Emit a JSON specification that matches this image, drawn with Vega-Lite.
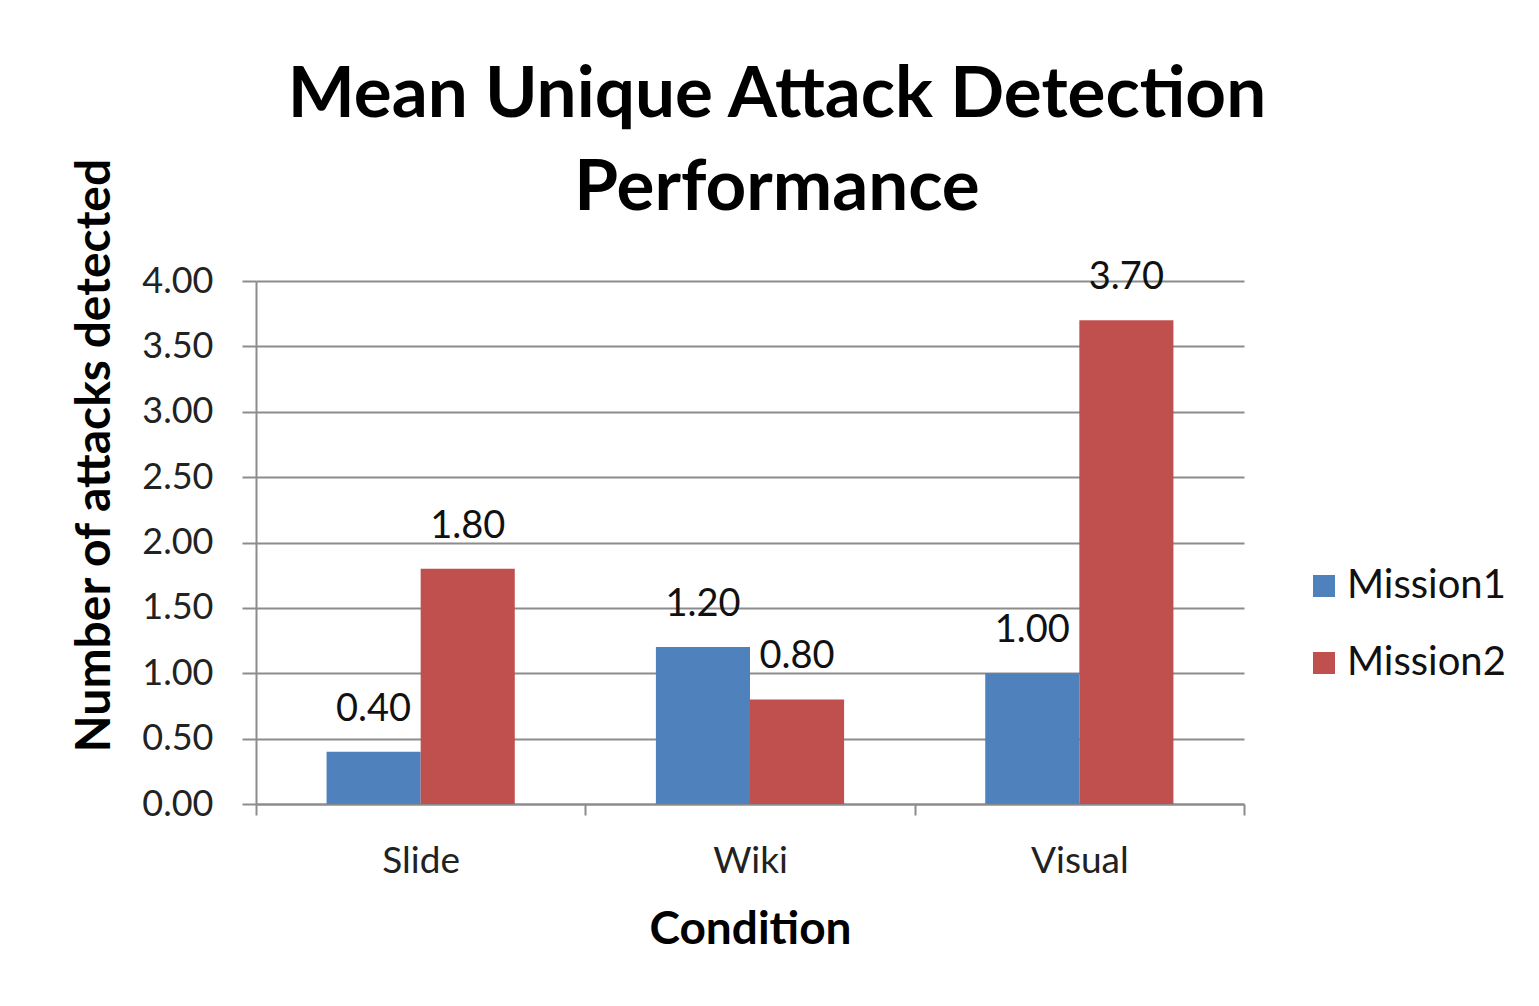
{
  "$schema": "https://vega.github.io/schema/vega-lite/v6.json",
  "width": 988,
  "height": 523,
  "autosize": "none",
  "padding": {"left": 256, "top": 281, "right": 295, "bottom": 202},
  "background": "white",
  "title": {
    "text": ["Mean Unique Attack Detection", "Performance"],
    "font": "Lato",
    "fontSize": 71,
    "fontWeight": "bold",
    "color": "#000000",
    "anchor": "middle",
    "dx": 27,
    "dy": 138,
    "offset": 70,
    "lineHeight": 93
  },
  "data": {
    "values": [
      {"Condition": "Slide", "Mission": "Mission1", "Value": 0.4},
      {"Condition": "Slide", "Mission": "Mission2", "Value": 1.8},
      {"Condition": "Wiki", "Mission": "Mission1", "Value": 1.2},
      {"Condition": "Wiki", "Mission": "Mission2", "Value": 0.8},
      {"Condition": "Visual", "Mission": "Mission1", "Value": 1.0},
      {"Condition": "Visual", "Mission": "Mission2", "Value": 3.7}
    ]
  },
  "encoding": {
    "x": {
      "field": "Condition",
      "type": "nominal",
      "sort": ["Slide", "Wiki", "Visual"],
      "scale": {"paddingInner": 0, "paddingOuter": 0},
      "axis": {
        "title": "Condition",
        "titleFont": "Lato",
        "titleFontSize": 46,
        "titleFontWeight": "bold",
        "titleColor": "#000000",
        "titlePadding": 28,
        "labelFont": "Lato",
        "labelFontSize": 37,
        "labelColor": "#222222",
        "labelAngle": 0,
        "labelPadding": 28,
        "tickBand": "extent",
        "tickSize": 11,
        "tickColor": "#8c8c8c",
        "tickWidth": 2,
        "domainColor": "#8c8c8c",
        "domainWidth": 2,
        "grid": false
      }
    },
    "xOffset": {
      "field": "Mission",
      "type": "nominal",
      "scale": {"paddingInner": 0, "paddingOuter": 0.75}
    },
    "y": {
      "field": "Value",
      "type": "quantitative",
      "scale": {"domain": [0, 4]},
      "axis": {
        "title": "Number of attacks detected",
        "titleFont": "Lato",
        "titleFontSize": 48,
        "titleFontWeight": "bold",
        "titleColor": "#000000",
        "titleX": -161,
        "titleY": 174,
        "titleAngle": -90,
        "titleAlign": "center",
        "titleBaseline": "middle",
        "values": [0, 0.5, 1, 1.5, 2, 2.5, 3, 3.5, 4],
        "format": ".2f",
        "labelFont": "Lato",
        "labelFontSize": 36,
        "labelColor": "#222222",
        "labelPadding": 29,
        "tickSize": 14,
        "tickColor": "#8c8c8c",
        "tickWidth": 2,
        "domainColor": "#8c8c8c",
        "domainWidth": 2,
        "grid": true,
        "gridColor": "#8c8c8c",
        "gridWidth": 2
      }
    }
  },
  "layer": [
    {
      "mark": {"type": "bar"},
      "encoding": {
        "color": {
          "field": "Mission",
          "type": "nominal",
          "scale": {"domain": ["Mission1", "Mission2"], "range": ["#4F81BD", "#C0504D"]},
          "legend": {
            "title": null,
            "orient": "none",
            "legendX": 1048,
            "legendY": 285,
            "symbolType": "square",
            "symbolSize": 484,
            "symbolStrokeWidth": 0,
            "labelFont": "Lato",
            "labelFontSize": 40,
            "labelColor": "#111111",
            "labelOffset": 3,
            "rowPadding": 37
          }
        }
      }
    },
    {
      "mark": {"type": "text", "font": "Lato", "fontSize": 38, "color": "#111111", "baseline": "alphabetic", "dy": -31},
      "encoding": {
        "text": {"field": "Value", "type": "quantitative", "format": ".2f"}
      }
    }
  ],
  "config": {
    "view": {"stroke": null}
  }
}
